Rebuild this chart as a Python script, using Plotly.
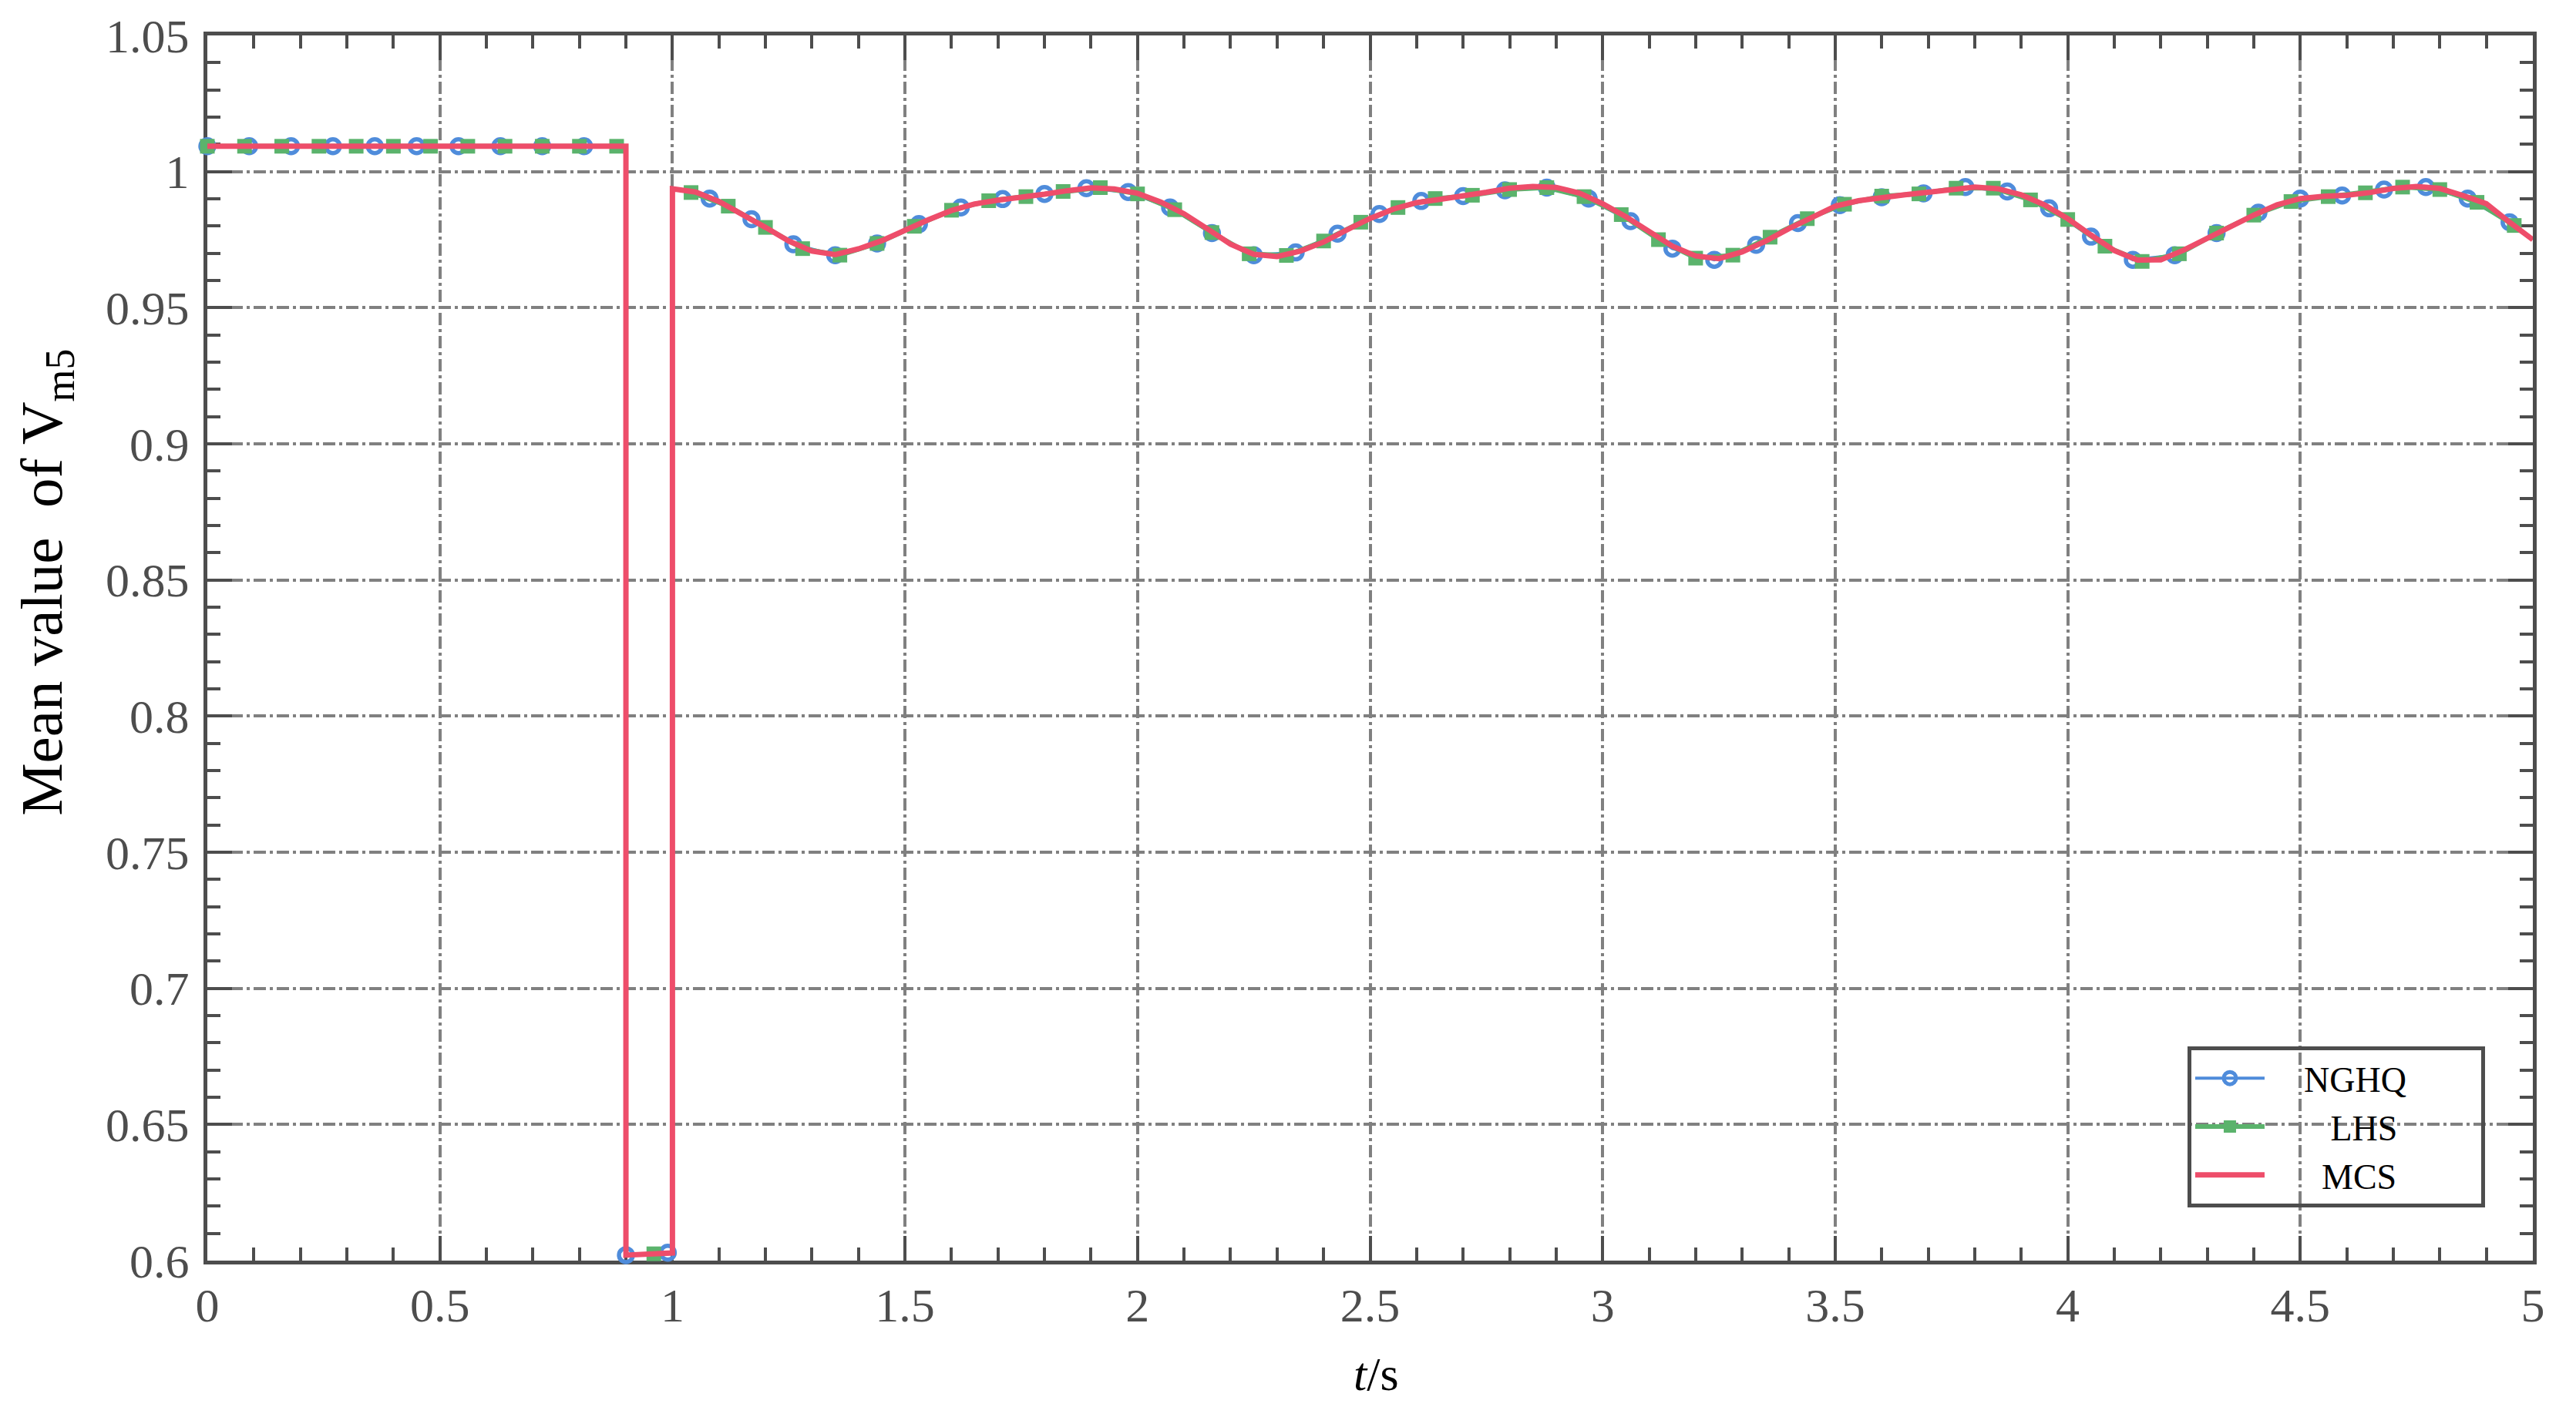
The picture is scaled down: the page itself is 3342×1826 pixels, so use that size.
import plotly.graph_objects as go

# MCS reference curve (t in s, mean value of Vm5)
mcs_t = [0, 0.9, 0.9, 0.95, 1.0, 1.0,
         1.05, 1.1, 1.15, 1.2, 1.25, 1.3, 1.35, 1.4, 1.45, 1.5,
         1.55, 1.6, 1.65, 1.7, 1.75, 1.8, 1.85, 1.9, 1.95, 2.0,
         2.05, 2.1, 2.15, 2.2, 2.25, 2.3, 2.35, 2.4, 2.45, 2.5,
         2.55, 2.6, 2.65, 2.7, 2.75, 2.8, 2.85, 2.9, 2.95, 3.0,
         3.05, 3.1, 3.15, 3.2, 3.25, 3.3, 3.35, 3.4, 3.45, 3.5,
         3.55, 3.6, 3.65, 3.7, 3.75, 3.8, 3.85, 3.9, 3.95, 4.0,
         4.05, 4.1, 4.15, 4.2, 4.25, 4.3, 4.35, 4.4, 4.45, 4.5,
         4.55, 4.6, 4.65, 4.7, 4.75, 4.8, 4.85, 4.9, 4.95, 5.0]
mcs_v = [1.0093, 1.0093, 0.6020, 0.6024, 0.6028, 0.9937,
         0.9925, 0.9890, 0.9845, 0.9795, 0.9745, 0.9708, 0.9695, 0.9716, 0.9746, 0.9786,
         0.9823, 0.9857, 0.9881, 0.9895, 0.9904, 0.9917, 0.9930, 0.9940, 0.9936, 0.9920,
         0.9888, 0.9845, 0.9790, 0.9733, 0.9696, 0.9688, 0.9708, 0.9741, 0.9786, 0.9828,
         0.9862, 0.9886, 0.9898, 0.9910, 0.9924, 0.9939, 0.9945, 0.9942, 0.9921, 0.9882,
         0.9834, 0.9780, 0.9726, 0.9690, 0.9680, 0.9705, 0.9744, 0.9790, 0.9834, 0.9873,
         0.9893, 0.9906, 0.9915, 0.9924, 0.9935, 0.9943, 0.9937, 0.9915, 0.9878, 0.9827,
         0.9767, 0.9710, 0.9675, 0.9676, 0.9712, 0.9754, 0.9800, 0.9840, 0.9878, 0.9901,
         0.9909, 0.9913, 0.9923, 0.9938, 0.9945, 0.9938, 0.9912, 0.9882, 0.9814, 0.9750]

# NGHQ samples (every 0.09 s)
nghq_t = [0, 0.09, 0.18, 0.27, 0.36, 0.45, 0.54, 0.63, 0.72, 0.81,
          0.9, 0.99, 1.08, 1.17, 1.26, 1.35, 1.44, 1.53, 1.62, 1.71,
          1.8, 1.89, 1.98, 2.07, 2.16, 2.25, 2.34, 2.43, 2.52, 2.61,
          2.7, 2.79, 2.88, 2.97, 3.06, 3.15, 3.24, 3.33, 3.42, 3.51,
          3.6, 3.69, 3.78, 3.87, 3.96, 4.05, 4.14, 4.23, 4.32, 4.41,
          4.5, 4.59, 4.68, 4.77, 4.86, 4.95]
nghq_v = [1.0093, 1.0093, 1.0093, 1.0093, 1.0093, 1.0093, 1.0093, 1.0093, 1.0093, 1.0093,
          0.6020, 0.6029, 0.9901, 0.9825, 0.9733, 0.9693, 0.9736, 0.9807, 0.9868, 0.9899,
          0.9918, 0.9939, 0.9925, 0.9868, 0.9774, 0.9693, 0.9703, 0.9772, 0.9844, 0.9892,
          0.9910, 0.9931, 0.9941, 0.9901, 0.9818, 0.9717, 0.9676, 0.9731, 0.9811, 0.9877,
          0.9906, 0.9920, 0.9943, 0.9927, 0.9865, 0.9761, 0.9676, 0.9693, 0.9774, 0.9849,
          0.9901, 0.9912, 0.9934, 0.9943, 0.9901, 0.9814]

# LHS samples (every 0.08 s)
lhs_t = [0, 0.08, 0.16, 0.24, 0.32, 0.4, 0.48, 0.56, 0.64, 0.72, 0.8, 0.88,
         0.96, 1.04, 1.12, 1.2, 1.28, 1.36, 1.44, 1.52, 1.6, 1.68, 1.76, 1.84,
         1.92, 2.0, 2.08, 2.16, 2.24, 2.32, 2.4, 2.48, 2.56, 2.64, 2.72, 2.8,
         2.88, 2.96, 3.04, 3.12, 3.2, 3.28, 3.36, 3.44, 3.52, 3.6, 3.68, 3.76,
         3.84, 3.92, 4.0, 4.08, 4.16, 4.24, 4.32, 4.4, 4.48, 4.56, 4.64, 4.72,
         4.8, 4.88, 4.96]
lhs_v = [1.0093, 1.0093, 1.0093, 1.0093, 1.0093, 1.0093, 1.0093, 1.0093, 1.0093, 1.0093, 1.0093, 1.0093,
         0.6025, 0.9923, 0.9873, 0.9795, 0.9717, 0.9693, 0.9736, 0.9799, 0.9858, 0.9893, 0.9908, 0.9927,
         0.9941, 0.9918, 0.9860, 0.9776, 0.9698, 0.9692, 0.9745, 0.9814, 0.9868, 0.9901, 0.9913, 0.9934,
         0.9941, 0.9908, 0.9842, 0.9750, 0.9682, 0.9693, 0.9759, 0.9827, 0.9880, 0.9910, 0.9918, 0.9939,
         0.9939, 0.9896, 0.9824, 0.9726, 0.9670, 0.9698, 0.9774, 0.9840, 0.9890, 0.9908, 0.9922, 0.9943,
         0.9934, 0.9887, 0.9802]


def break_jumps(ts, vs):
    # don't draw a slanted line across the fault jumps
    xs, ys = [ts[0]], [vs[0]]
    for i in range(1, len(ts)):
        if abs(vs[i] - vs[i - 1]) > 0.1:
            xs.append(None)
            ys.append(None)
        xs.append(ts[i])
        ys.append(vs[i])
    return xs, ys


def pad(name, left, right):
    # legend labels are centred in the original box
    return "\u00a0" * left + name + "\u00a0" * right


FONT = "Palatino Linotype, Book Antiqua, Palatino, Liberation Serif, serif"
AXIS = "#4d4d4d"

fig = go.Figure()

x, y = break_jumps(nghq_t, nghq_v)
fig.add_trace(go.Scatter(x=x, y=y, name=pad("NGHQ", 4, 8), mode="lines+markers", cliponaxis=False,
                         line=dict(color="#4F8CDB", width=4),
                         marker=dict(symbol="circle-open", size=18, color="#4F8CDB",
                                     line=dict(width=5.5, color="#4F8CDB"))))
x, y = break_jumps(lhs_t, lhs_v)
fig.add_trace(go.Scatter(x=x, y=y, name=pad("LHS", 7, 0), mode="lines+markers", cliponaxis=False,
                         line=dict(color="#5BB36C", width=6),
                         marker=dict(symbol="square", size=19, color="#5BB36C")))
fig.add_trace(go.Scatter(x=mcs_t, y=mcs_v, name=pad("MCS", 6, 0), mode="lines", cliponaxis=False,
                         line=dict(color="#EE4D6A", width=7)))

axis_common = dict(showline=True, linewidth=5, linecolor=AXIS, mirror="allticks",
                   ticks="inside", ticklen=32, tickwidth=4, tickcolor=AXIS,
                   showgrid=True, gridcolor="#808080", gridwidth=4,
                   griddash="16px,5px,4px,5px", zeroline=False, layer="below traces",
                   automargin=False,
                   tickfont=dict(family=FONT, size=62, color=AXIS))

fig.update_xaxes(range=[0, 5], dtick=0.5, tick0=0,
                 minor=dict(ticks="inside", ticklen=17, tickwidth=4, tickcolor=AXIS, dtick=0.1, showgrid=False),
                 **axis_common)
fig.update_yaxes(range=[0.6, 1.05], dtick=0.05, tick0=0.6, ticklabelstandoff=6,
                 minor=dict(ticks="inside", ticklen=17, tickwidth=4, tickcolor=AXIS, dtick=0.01, showgrid=False),
                 **axis_common)

fig.add_annotation(text="Mean value  of V<sub>m5</sub>", xref="paper", yref="paper",
                   x=-0.0693, y=0.5535, xanchor="center", yanchor="middle", textangle=-90,
                   showarrow=False, font=dict(family=FONT, size=77, color="black"))
fig.add_annotation(text="<i>t</i>/s", xref="paper", yref="paper",
                   x=0.5028, y=-0.0925, xanchor="center", yanchor="middle",
                   showarrow=False, font=dict(family=FONT, size=62, color="black"))

fig.update_layout(
    width=3342, height=1826,
    margin=dict(l=261, r=64, t=38, b=198, autoexpand=False),
    plot_bgcolor="white", paper_bgcolor="white",
    showlegend=True,
    legend=dict(x=0.8515, y=0.175, xanchor="left", yanchor="top",
                bgcolor="rgba(0,0,0,0)", bordercolor=AXIS, borderwidth=5,
                font=dict(family=FONT, size=46, color="black"),
                itemwidth=90, tracegroupgap=0),
)

fig.write_html("out.html")
